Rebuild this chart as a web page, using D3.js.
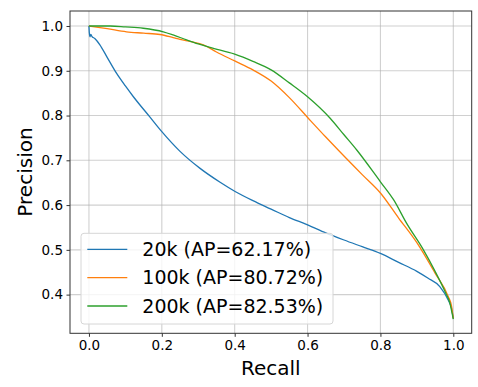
<!DOCTYPE html>
<html>
<head>
<meta charset="utf-8">
<script src="https://cdn.jsdelivr.net/npm/d3@7"></script>
<style>
  body { margin: 0; background: #fff; }
  svg { font-family: "DejaVu Sans", sans-serif; }
</style>
</head>
<body>
<div id="viz"></div>
<script>
// data
let xTicks = [0.0, 0.2, 0.4, 0.6, 0.8, 1.0]
let yTicks = [0.4, 0.5, 0.6, 0.7, 0.8, 0.9, 1.0]

let labels = ["20k (AP=62.17%)", "100k (AP=80.72%)", "200k (AP=82.53%)"]
let colors = ["#1f77b4", "#ff7f0e", "#2ca02c"]

let recall20k = [0, 0.001, 0.003, 0.005, 0.008, 0.016, 0.03, 0.05, 0.076, 0.1, 0.122, 0.167, 0.2, 0.25, 0.305, 0.36, 0.4, 0.45, 0.5, 0.55, 0.6, 0.65, 0.7, 0.75, 0.8, 0.85, 0.9, 0.93, 0.963, 0.986, 0.995, 1.0]
let prec20k = [1.0, 0.985, 0.976, 0.981, 0.977, 0.972, 0.958, 0.93, 0.894, 0.866, 0.842, 0.797, 0.764, 0.72, 0.682, 0.651, 0.631, 0.61, 0.591, 0.572, 0.556, 0.538, 0.522, 0.507, 0.492, 0.472, 0.452, 0.437, 0.418, 0.388, 0.37, 0.347]

let recall100k = [0, 0.05, 0.103, 0.15, 0.195, 0.231, 0.25, 0.28, 0.314, 0.35, 0.4, 0.45, 0.5, 0.55, 0.602, 0.65, 0.684, 0.75, 0.8, 0.85, 0.9, 0.95, 0.986, 0.995, 1.0]
let prec100k = [1.0, 0.994, 0.987, 0.984, 0.981, 0.974, 0.97, 0.965, 0.958, 0.942, 0.922, 0.902, 0.877, 0.84, 0.794, 0.752, 0.723, 0.668, 0.627, 0.571, 0.516, 0.448, 0.396, 0.375, 0.347]

let recall200k = [0, 0.058, 0.1, 0.149, 0.204, 0.231, 0.268, 0.3, 0.332, 0.4, 0.45, 0.5, 0.55, 0.6, 0.662, 0.7, 0.735, 0.8, 0.836, 0.872, 0.918, 0.95, 0.98, 0.99, 1.0]
let prec200k = [1.0, 1.0, 0.998, 0.995, 0.987, 0.98, 0.969, 0.96, 0.952, 0.937, 0.921, 0.902, 0.873, 0.842, 0.794, 0.757, 0.723, 0.652, 0.612, 0.559, 0.5, 0.452, 0.402, 0.383, 0.345]

let series = [
  { name: labels[0], color: colors[0], r: recall20k, p: prec20k },
  { name: labels[1], color: colors[1], r: recall100k, p: prec100k },
  { name: labels[2], color: colors[2], r: recall200k, p: prec200k }
]

let W = 478, H = 387
let plot = { left: 70, right: 471.7, top: 11, bottom: 333.3 }

let svg = d3.select("#viz").append("svg")
  .attr("width", W).attr("height", H)

// scales
let xScale = d3.scaleLinear().domain([-0.052, 1.0505]).range([plot.left, plot.right])
let yScale = d3.scaleLinear().domain([0.3136, 1.0335]).range([plot.bottom, plot.top])

// grid
svg.append("g")
  .selectAll("line").data(xTicks).join("line")
    .attr("x1", d => xScale(d)).attr("x2", d => xScale(d))
    .attr("y1", plot.top).attr("y2", plot.bottom)
    .attr("stroke", "#b0b0b0").attr("stroke-opacity", 0.6).attr("stroke-width", 1.1)
svg.append("g")
  .selectAll("line").data(yTicks).join("line")
    .attr("y1", d => yScale(d)).attr("y2", d => yScale(d))
    .attr("x1", plot.left).attr("x2", plot.right)
    .attr("stroke", "#b0b0b0").attr("stroke-opacity", 0.6).attr("stroke-width", 1.1)

// curves
let line = d3.line()
  .x(d => xScale(d[0])).y(d => yScale(d[1]))
  .curve(d3.curveMonotoneX)
series.forEach(s => {
  svg.append("path")
    .datum(s.r.map((v, i) => [v, s.p[i]]))
    .attr("fill", "none")
    .attr("stroke", s.color)
    .attr("stroke-width", 1.3)
    .attr("stroke-linejoin", "round")
    .attr("d", line)
})

// axes
let xAxis = d3.axisBottom(xScale).tickValues(xTicks).tickFormat(d3.format(".1f"))
  .tickSizeOuter(0).tickSizeInner(3.5).tickPadding(3.5)
let yAxis = d3.axisLeft(yScale).tickValues(yTicks).tickFormat(d3.format(".1f"))
  .tickSizeOuter(0).tickSizeInner(3.5).tickPadding(3.5)

let gx = svg.append("g").attr("transform", `translate(0,${plot.bottom})`).call(xAxis)
let gy = svg.append("g").attr("transform", `translate(${plot.left},0)`).call(yAxis)
;[gx, gy].forEach(g => {
  g.select(".domain").remove()
  g.selectAll("text").attr("font-size", 13.5).attr("font-family", "DejaVu Sans").attr("fill", "#000")
  g.selectAll("line").attr("stroke", "#333")
})

// frame
svg.append("rect")
  .attr("x", plot.left).attr("y", plot.top)
  .attr("width", plot.right - plot.left).attr("height", plot.bottom - plot.top)
  .attr("fill", "none").attr("stroke", "#333").attr("stroke-width", 1)

// axis labels
svg.append("text")
  .attr("x", (plot.left + plot.right) / 2).attr("y", 375)
  .attr("text-anchor", "middle").attr("font-size", 20)
  .text("Recall")
svg.append("text")
  .attr("transform", "translate(32,172) rotate(-90)")
  .attr("text-anchor", "middle").attr("font-size", 20)
  .text("Precision")

// legend
let legend = svg.append("g")
legend.append("rect")
  .attr("x", 81).attr("y", 233.3).attr("width", 252).attr("height", 90.7)
  .attr("rx", 3).attr("fill", "#fff").attr("fill-opacity", 0.8)
  .attr("stroke", "#d6d6d6").attr("stroke-width", 1)
series.forEach((s, i) => {
  let ly = 249.3 + i * 28.35
  legend.append("line")
    .attr("x1", 87.3).attr("x2", 127.3).attr("y1", ly).attr("y2", ly)
    .attr("stroke", s.color).attr("stroke-width", 1.3)
  legend.append("text")
    .attr("x", 142.3).attr("y", ly).attr("dy", "0.36em")
    .attr("font-size", 19)
    .text(s.name)
})
</script>
</body>
</html>
